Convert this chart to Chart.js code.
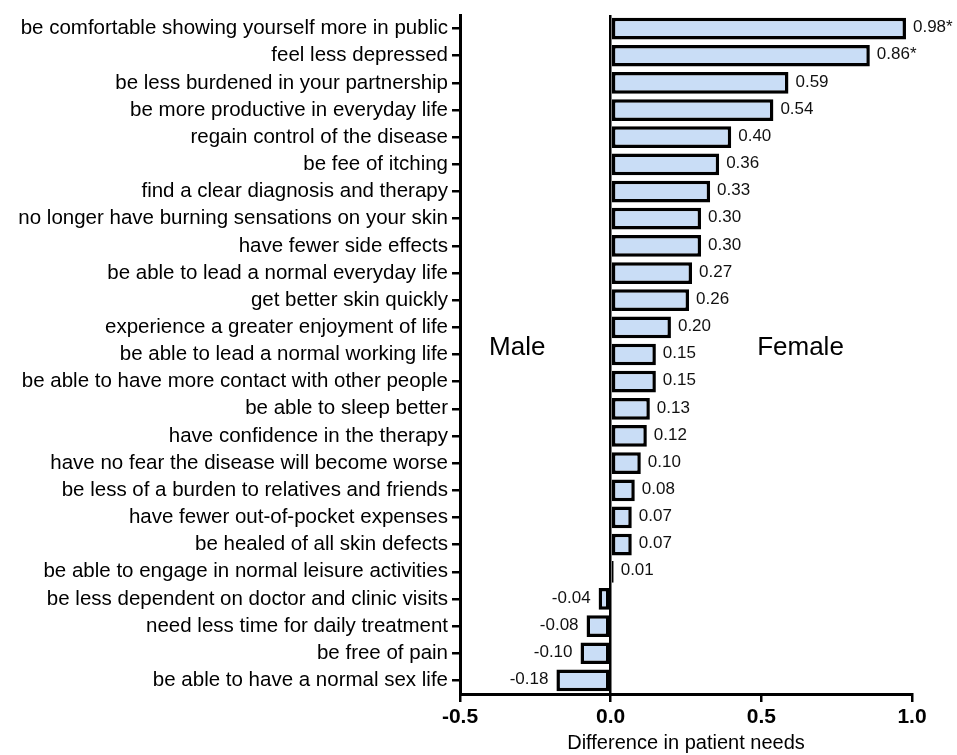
<!DOCTYPE html>
<html>
<head>
<meta charset="utf-8">
<script src="https://cdn.jsdelivr.net/npm/chart.js@4"></script>
<style>
  html, body { margin: 0; padding: 0; background: #fff; }
  #wrap { width: 957px; height: 755px; }
</style>
</head>
<body>
<div id="wrap"><canvas id="needsChart" width="957" height="755"></canvas></div>
<script>
// categories (top to bottom)
var needs = [
    'be comfortable showing yourself more in public',
    'feel less depressed',
    'be less burdened in your partnership',
    'be more productive in everyday life',
    'regain control of the disease',
    'be fee of itching',
    'find a clear diagnosis and therapy',
    'no longer have burning sensations on your skin',
    'have fewer side effects',
    'be able to lead a normal everyday life',
    'get better skin quickly',
    'experience a greater enjoyment of life',
    'be able to lead a normal working life',
    'be able to have more contact with other people',
    'be able to sleep better',
    'have confidence in the therapy',
    'have no fear the disease will become worse',
    'be less of a burden to relatives and friends',
    'have fewer out-of-pocket expenses',
    'be healed of all skin defects',
    'be able to engage in normal leisure activities',
    'be less dependent on doctor and clinic visits',
    'need less time for daily treatment',
    'be free of pain',
    'be able to have a normal sex life'
];

// female minus male
var diffs = [0.98, 0.86, 0.59, 0.54, 0.40, 0.36, 0.33, 0.30, 0.30, 0.27, 0.26, 0.20,
             0.15, 0.15, 0.13, 0.12, 0.10, 0.08, 0.07, 0.07, 0.01, -0.04, -0.08, -0.10, -0.18];

// printed labels (* = significant)
var diffLabels = ['0.98*', '0.86*', '0.59', '0.54', '0.40', '0.36', '0.33', '0.30', '0.30', '0.27',
                  '0.26', '0.20', '0.15', '0.15', '0.13', '0.12', '0.10', '0.08', '0.07', '0.07',
                  '0.01', '-0.04', '-0.08', '-0.10', '-0.18'];

var xTicks = [-0.5, 0.0, 0.5, 1.0];

var FONT = "'Liberation Sans', Arial, sans-serif";

// value labels next to bars + Male / Female captions
var barText = {
    id: 'barText',
    afterDatasetsDraw: function(chart) {
        var ctx = chart.ctx;
        var meta = chart.getDatasetMeta(0);
        ctx.save();
        ctx.font = '17px ' + FONT;
        ctx.fillStyle = '#111';
        ctx.textBaseline = 'middle';
        meta.data.forEach(function(bar, i) {
            if (diffs[i] >= 0) {
                ctx.textAlign = 'left';
                ctx.fillText(diffLabels[i], bar.x + 7, bar.y - 1);
            } else {
                ctx.textAlign = 'right';
                ctx.fillText(diffLabels[i], bar.x - 8, bar.y - 1);
            }
        });
        var xs = chart.scales.x, ys = chart.scales.y;
        var capY = ys.getPixelForValue(12) - 7;
        ctx.font = '26px ' + FONT;
        ctx.fillStyle = '#000';
        ctx.textAlign = 'center';
        ctx.fillText('Male', xs.getPixelForValue(-0.31), capY);
        ctx.fillText('Female', xs.getPixelForValue(0.63), capY);
        ctx.restore();
    }
};

var ctx = document.getElementById('needsChart').getContext('2d');
var needsChart = new Chart(ctx, {
    type: 'bar',
    data: {
        labels: needs,
        datasets: [{
            data: diffs,
            backgroundColor: '#c9ddf6',
            borderColor: '#000',
            borderWidth: 3.5,
            borderSkipped: false,
            barPercentage: 0.8,
            categoryPercentage: 1.0
        }]
    },
    options: {
        indexAxis: 'y',
        responsive: false,
        animation: false,
        layout: { padding: { top: 15, right: 45, bottom: 0, left: 0 } },
        plugins: {
            legend: { display: false },
            tooltip: { enabled: false }
        },
        scales: {
            x: {
                min: -0.5,
                max: 1.0,
                afterBuildTicks: function(scale) {
                    scale.ticks = xTicks.map(function(v) { return { value: v }; });
                },
                ticks: {
                    color: '#000',
                    font: { family: FONT, size: 21, weight: 'bold' },
                    padding: 3,
                    callback: function(v) { return Number(v).toFixed(1); }
                },
                grid: {
                    color: function(c) { return c.tick && c.tick.value === 0 ? '#000' : 'rgba(0,0,0,0)'; },
                    lineWidth: 2.5,
                    tickColor: '#000',
                    tickLength: 8
                },
                border: { display: true, color: '#000', width: 3 },
                title: {
                    display: true,
                    text: 'Difference in patient needs',
                    color: '#000',
                    font: { family: FONT, size: 20 },
                    padding: { top: 4, bottom: 0 }
                },
                afterFit: function(scale) { scale.height = 61; }
            },
            y: {
                ticks: {
                    color: '#000',
                    font: { family: FONT, size: 20.5 },
                    padding: 4,
                    autoSkip: false
                },
                grid: {
                    offset: false,
                    drawOnChartArea: false,
                    tickColor: '#000',
                    tickLength: 8,
                    lineWidth: 2.5
                },
                border: { display: true, color: '#000', width: 3 },
                afterFit: function(scale) {
                    scale.width = 460;
                    scale.paddingTop = 0;
                    scale.paddingBottom = 0;
                }
            }
        }
    },
    plugins: [barText]
});
</script>
</body>
</html>
